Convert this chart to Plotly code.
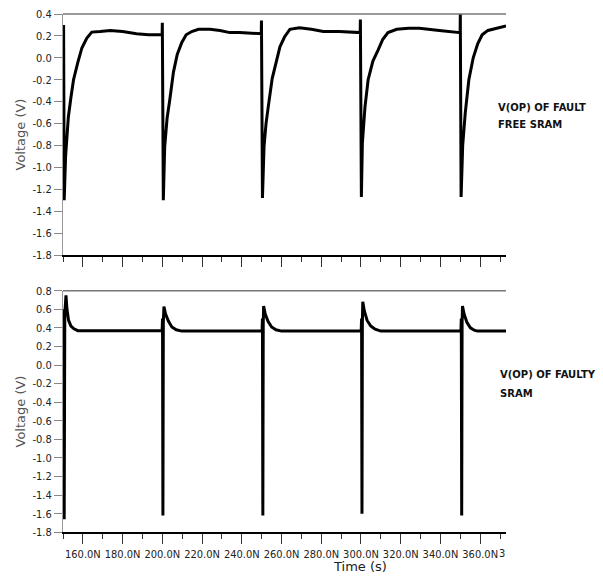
import plotly.graph_objects as go

W, H = 603, 578

# ---- data (time in ns, voltage in V) ----
t_free = [150.3, 150.6, 151.3, 152.7, 154.0, 155.3, 157.5, 159.5, 162.0, 164.5, 168.7, 173.8, 180.0, 187.0, 193.0, 199.9,
          200.0, 200.5, 201.2, 202.4, 203.7, 205.6, 207.5, 209.8, 212.0, 214.8, 218.2, 224.0, 229.0, 234.0, 239.0, 249.8,
          249.9, 250.4, 251.2, 252.2, 253.3, 255.3, 259.2, 261.5, 264.2, 269.0, 275.0, 281.0, 289.0, 299.6,
          299.7, 300.2, 300.7, 302.0, 303.6, 306.0, 308.6, 311.0, 313.6, 318.0, 324.0, 329.4, 339.4, 349.9,
          350.0, 350.4, 351.2, 352.5, 354.3, 356.5, 358.8, 361.0, 363.9, 368.0, 373.0]
v_free = [0.30, -1.30, -0.90, -0.54, -0.36, -0.20, -0.04, 0.09, 0.18, 0.235, 0.24, 0.25, 0.24, 0.22, 0.21, 0.21,
          0.32, -1.30, -0.81, -0.55, -0.39, -0.13, 0.03, 0.14, 0.21, 0.24, 0.26, 0.26, 0.25, 0.23, 0.23, 0.22,
          0.34, -1.28, -0.81, -0.60, -0.45, -0.19, 0.10, 0.19, 0.26, 0.275, 0.26, 0.24, 0.24, 0.23,
          0.35, -1.27, -0.78, -0.45, -0.20, -0.03, 0.07, 0.17, 0.23, 0.26, 0.27, 0.27, 0.25, 0.23,
          0.40, -1.27, -0.80, -0.50, -0.20, 0.0, 0.13, 0.21, 0.25, 0.27, 0.29]

t_faulty = [150.4, 150.6, 150.9, 151.5, 152.0, 152.8, 154.0, 155.5, 157.5, 199.9,
            200.1, 200.3, 200.5, 200.8, 201.6, 203.1, 204.8, 207.0, 209.8, 250.2,
            250.4, 250.6, 250.8, 251.0, 251.8, 253.2, 255.0, 257.2, 260.0, 300.1,
            300.3, 300.5, 300.7, 300.9, 301.7, 303.1, 304.9, 307.1, 310.0, 350.3,
            350.5, 350.7, 350.9, 351.1, 351.9, 353.3, 355.1, 357.0, 358.6, 373.0]
v_faulty = [0.60, -1.66, 0.55, 0.75, 0.60, 0.48, 0.42, 0.39, 0.37, 0.37,
            0.50, -1.62, 0.45, 0.63, 0.55, 0.47, 0.41, 0.38, 0.365, 0.365,
            0.50, -1.62, 0.45, 0.635, 0.55, 0.47, 0.41, 0.38, 0.365, 0.365,
            0.50, -1.60, 0.45, 0.68, 0.58, 0.48, 0.42, 0.385, 0.365, 0.365,
            0.50, -1.62, 0.45, 0.635, 0.55, 0.46, 0.40, 0.375, 0.365, 0.365]

x_ticks = [160, 180, 200, 220, 240, 260, 280, 300, 320, 340, 360]
x_labels = ["160.0N", "180.0N", "200.0N", "220.0N", "240.0N", "260.0N",
            "280.0N", "300.0N", "320.0N", "340.0N", "360.0N"]
y_top_ticks = [0.4, 0.2, 0.0, -0.2, -0.4, -0.6, -0.8, -1.0, -1.2, -1.4, -1.6, -1.8]
y_top_labels = ["0.4", "0.2", "0.0", "-0.2", "-0.4", "-0.6", "-0.8", "-1.0", "-1.2", "-1.4", "-1.6", "-1.8"]
y_bot_ticks = [0.8, 0.6, 0.4, 0.2, 0.0, -0.2, -0.4, -0.6, -0.8, -1.0, -1.2, -1.4, -1.6, -1.8]
y_bot_labels = ["0.8", "0.6", "0.4", "0.2", "0.0", "-0.2", "-0.4", "-0.6", "-0.8", "-1.0", "-1.2", "-1.4", "-1.6", "-1.8"]

TICKFONT = dict(family="Liberation Sans Narrow, DejaVu Sans Condensed, sans-serif", size=11, color="#222")

fig = go.Figure()
fig.add_trace(go.Scatter(x=t_free, y=v_free, mode="lines", line=dict(color="black", width=3),
                         xaxis="x", yaxis="y", showlegend=False))
fig.add_trace(go.Scatter(x=t_faulty, y=v_faulty, mode="lines", line=dict(color="black", width=3),
                         xaxis="x2", yaxis="y2", showlegend=False))

xdom = [63 / W, 506 / W]
ydom_top = [1 - 255 / H, 1 - 14 / H]
ydom_bot = [1 - 532.3 / H, 1 - 290.7 / H]

def xaxis(anchor, labels):
    return dict(domain=xdom, range=[150, 373], anchor=anchor, tickvals=x_ticks, ticktext=x_labels,
                showticklabels=labels, ticks="outside", ticklen=10, tickwidth=1, tickcolor="#333",
                showline=True, linecolor="black", linewidth=2, showgrid=False, zeroline=False,
                tickfont=TICKFONT, automargin=False,
                minor=dict(tick0=170, dtick=20, ticks="outside", ticklen=5, tickwidth=1, tickcolor="#333",
                           showgrid=False))

def yaxis(anchor, dom, rng, tv, tt):
    return dict(domain=dom, range=rng, anchor=anchor, tickvals=tv, ticktext=tt, ticks="outside",
                ticklen=8, tickwidth=1, tickcolor="#888", showline=True, linecolor="#999", linewidth=1,
                showgrid=False, zeroline=False, tickfont=TICKFONT, automargin=False)

fig.update_layout(
    width=W, height=H, margin=dict(l=0, r=0, t=0, b=0, autoexpand=False),
    paper_bgcolor="white", plot_bgcolor="white",
    xaxis=xaxis("y", False),
    yaxis=yaxis("x", ydom_top, [-1.8, 0.4], y_top_ticks, y_top_labels),
    xaxis2=xaxis("y2", True),
    yaxis2=yaxis("x2", ydom_bot, [-1.8, 0.8], y_bot_ticks, y_bot_labels),
    shapes=[
        dict(type="line", xref="x domain", yref="y domain", x0=0, x1=1, y0=1, y1=1,
             line=dict(color="#777", width=1.5)),
        dict(type="line", xref="x2 domain", yref="y2 domain", x0=0, x1=1, y0=1, y1=1,
             line=dict(color="#777", width=1.5)),
    ],
)

def px_ann(text, x, y, **kw):
    d = dict(text=text, x=x / W, y=1 - y / H, xref="paper", yref="paper", showarrow=False)
    d.update(kw)
    fig.add_annotation(**d)

LBL = dict(family="DejaVu Sans, Verdana, sans-serif", size=10, color="#111")
px_ann("<b>V(OP) OF FAULT</b>", 496, 107, xanchor="left", yanchor="middle", font=LBL)
px_ann("<b>FREE SRAM</b>", 496, 125, xanchor="left", yanchor="middle", font=LBL)
px_ann("<b>V(OP) OF FAULTY</b>", 498, 374, xanchor="left", yanchor="middle", font=LBL)
px_ann("<b>SRAM</b>", 498, 393, xanchor="left", yanchor="middle", font=LBL)

YT = dict(family="DejaVu Sans, Verdana, sans-serif", size=13, color="#555")
px_ann("Voltage (V)", 20, 134.5, textangle=-90, xanchor="center", yanchor="middle", font=YT)
px_ann("Voltage (V)", 20, 411.5, textangle=-90, xanchor="center", yanchor="middle", font=YT)
px_ann("Time (s)", 360, 566, xanchor="center", yanchor="middle",
       font=dict(family="DejaVu Sans, Verdana, sans-serif", size=13, color="#222"))
px_ann("3", 507, 553, xanchor="right", yanchor="middle", font=TICKFONT)

fig.write_html("out.html", config={"displayModeBar": False},
               post_script="document.body.style.margin='0';document.body.style.overflow='hidden';")
